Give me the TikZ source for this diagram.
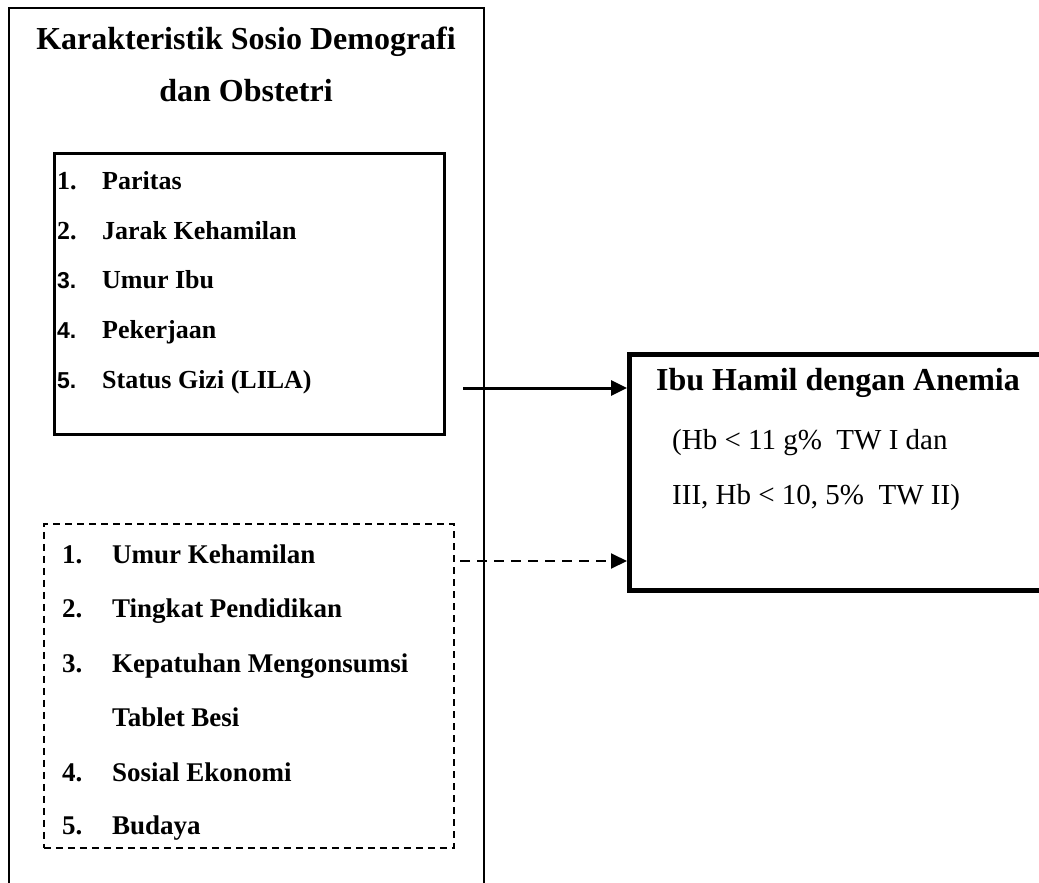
\documentclass[tikz,border=0pt]{standalone}
\usepackage{fontspec}
\setmainfont{Liberation Serif}
\newfontfamily\numfont{Liberation Sans}
\usetikzlibrary{arrows.meta, positioning}

\begin{document}
\begin{tikzpicture}[x=1pt, y=-1pt,
  box/.style={draw, inner sep=0pt, anchor=north west},
  judulfont/.style={font=\fontsize{32}{36}\selectfont\bfseries},
  num/.style={anchor=base west, inner sep=0pt, font=\fontsize{26}{30}\selectfont\bfseries},
  numsans/.style={anchor=base west, inner sep=0pt, font=\fontsize{23}{30}\selectfont\numfont\bfseries},
  item/.style={anchor=base west, inner sep=0pt, font=\fontsize{26}{30}\selectfont\bfseries},
  itemb/.style={anchor=base west, inner sep=0pt, font=\fontsize{27}{30}\selectfont\bfseries},
  ket/.style={anchor=base west, inner sep=0pt, font=\fontsize{29}{32}\selectfont},
  arrow/.style={-{Triangle[length=16pt, width=15pt]}}]
  \useasboundingbox (0,0) rectangle (1039,883);

  % kotak luar (terbuka di bawah)
  \draw[line width=1.3pt] (9,900) -- (9,8) -- (484,8) -- (484,900);
  \node[judulfont, anchor=base] (judul) at (246,50) {Karakteristik Sosio Demografi};
  \node[judulfont, anchor=base] (judulb) at (246,102) {dan Obstetri};

  % faktor yang diteliti
  \node[box, line width=3pt, minimum width=390pt, minimum height=281pt] (obstetri) at (53,152) {};
  \node[num] (n1) at (57,189) {1.};
  \node[num] (n2) at (57,239) {2.};
  \node[numsans] (n3) at (57,288) {3.};
  \node[numsans] (n4) at (57,338) {4.};
  \node[numsans] (n5) at (57,388) {5.};
  \node[item] (paritas) at (102,189) {Paritas};
  \node[item] (jarak) at (102,239) {Jarak Kehamilan};
  \node[item] (umuribu) at (102,288) {Umur Ibu};
  \node[item] (pekerjaan) at (102,338) {Pekerjaan};
  \node[item] (gizi) at (102,388) {Status Gizi (LILA)};

  % faktor yang tidak diteliti
  \node[box, line width=1.5pt, dash pattern=on 7pt off 5pt, minimum width=410pt, minimum height=324pt] (lain) at (43,523) {};
  \node[itemb] (m1) at (62,563) {1.};
  \node[itemb] (m2) at (62,617) {2.};
  \node[itemb] (m3) at (62,672) {3.};
  \node[itemb] (m4) at (62,781) {4.};
  \node[itemb] (m5) at (62,834) {5.};
  \node[itemb] (umurhamil) at (112,563) {Umur Kehamilan};
  \node[itemb] (pendidikan) at (112,617) {Tingkat Pendidikan};
  \node[itemb] (kepatuhan) at (112,672) {Kepatuhan Mengonsumsi};
  \node[itemb] (tablet) at (112,726) {Tablet Besi};
  \node[itemb] (ekonomi) at (112,781) {Sosial Ekonomi};
  \node[itemb] (budaya) at (112,834) {Budaya};

  % variabel terikat
  \node[box, line width=4.5pt, minimum width=440pt, minimum height=236pt] (anemia) at (627,352) {};
  \node[judulfont, anchor=base west, inner sep=0pt] (anemiajudul) at (656,390) {Ibu Hamil dengan Anemia};
  \node[ket] (hb1) at (672,449) {(Hb < 11 g\%\ \ TW I dan};
  \node[ket] (hb2) at (672,504) {III, Hb < 10, 5\%\ \ TW II)};

  \coordinate (dari1) at (463,388);
  \coordinate (dari2) at (460,561);
  \draw[arrow, line width=3pt] (dari1) -- (dari1 -| anemia.west);
  \draw[arrow, line width=2pt, dash pattern=on 10pt off 7pt] (dari2) -- (dari2 -| anemia.west);
\end{tikzpicture}
\end{document}
